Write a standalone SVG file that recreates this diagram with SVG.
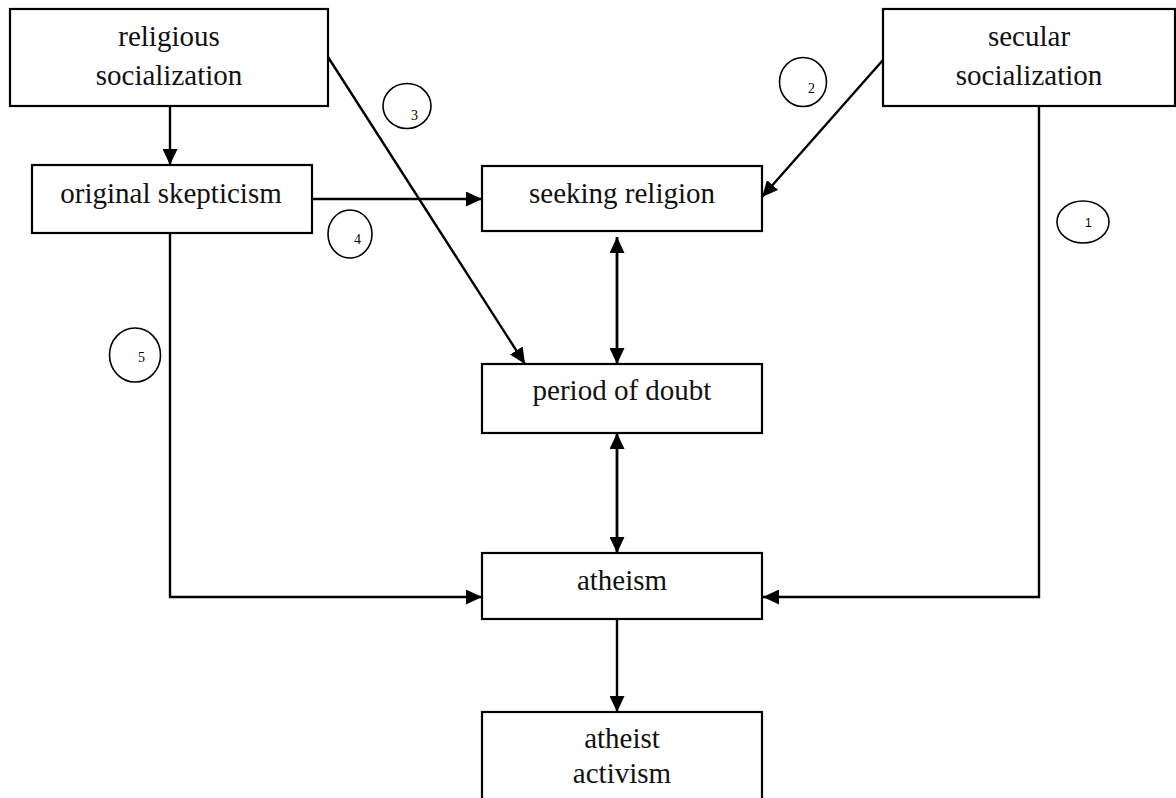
<svg xmlns="http://www.w3.org/2000/svg" width="1176" height="798" viewBox="0 0 1176 798">
<style>
.box{fill:#fff;stroke:#000;stroke-width:2.2}
.t{font-family:"Liberation Serif","Times New Roman",serif;font-size:29px;fill:#111;text-anchor:middle}
.c{fill:none;stroke:#000;stroke-width:1.6}
.n{font-family:"Liberation Serif","Times New Roman",serif;font-size:14px;fill:#000}
.ns{font-family:"Liberation Sans",Arial,sans-serif;font-size:12px;fill:#000}
.e{fill:none;stroke:#000;stroke-width:2.4}
.b{fill:none;stroke:#000;stroke-width:2.8}
</style>
<defs>
<marker id="ah" markerUnits="userSpaceOnUse" markerWidth="16" markerHeight="15" refX="16" refY="7.5" orient="auto-start-reverse">
<path d="M0,0 L16,7.5 L0,15 z" fill="#000"/>
</marker>
</defs>
<rect width="1176" height="798" fill="#fff"/>
<g id="connectors">
<line class="e" x1="170" y1="106" x2="170" y2="165" marker-end="url(#ah)"/>
<line class="e" x1="312" y1="199" x2="482" y2="199" marker-end="url(#ah)"/>
<line class="e" x1="328" y1="57" x2="525" y2="364" marker-end="url(#ah)"/>
<line class="e" x1="883" y1="60" x2="762" y2="197" marker-end="url(#ah)"/>
<line class="b" x1="617" y1="237" x2="617" y2="364" marker-start="url(#ah)" marker-end="url(#ah)"/>
<line class="b" x1="617" y1="433" x2="617" y2="553" marker-start="url(#ah)" marker-end="url(#ah)"/>
<polyline class="e" points="170,233 170,597 482,597" marker-end="url(#ah)"/>
<polyline class="e" points="1039,106 1039,597 763,597" marker-end="url(#ah)"/>
<line class="e" x1="617" y1="619" x2="617" y2="712" marker-end="url(#ah)"/>
</g>
<g id="n-religious">
<rect class="box" x="10" y="9" width="318" height="97"/>
<text class="t" x="169" y="46">religious</text>
<text class="t" x="169" y="85">socialization</text>
</g>
<g id="n-secular">
<rect class="box" x="883" y="9" width="292" height="97"/>
<text class="t" x="1029" y="46">secular</text>
<text class="t" x="1029" y="85">socialization</text>
</g>
<g id="n-original">
<rect class="box" x="32" y="165" width="280" height="68"/>
<text class="t" x="171" y="203">original skepticism</text>
</g>
<g id="n-seeking">
<rect class="box" x="482" y="166" width="280" height="65"/>
<text class="t" x="622" y="203">seeking religion</text>
</g>
<g id="n-doubt">
<rect class="box" x="482" y="364" width="280" height="69"/>
<text class="t" x="622" y="400">period of doubt</text>
</g>
<g id="n-atheism">
<rect class="box" x="482" y="553" width="280" height="66"/>
<text class="t" x="622" y="590">atheism</text>
</g>
<g id="n-activism">
<rect class="box" x="482" y="712" width="280" height="100"/>
<text class="t" x="622" y="748">atheist</text>
<text class="t" x="622" y="783">activism</text>
</g>
<g id="labels">
<ellipse class="c" cx="1083" cy="222" rx="26" ry="21"/>
<text class="ns" x="1085" y="227">1</text>
<ellipse class="c" cx="803" cy="82" rx="23.5" ry="24.5"/>
<text class="n" x="808" y="93">2</text>
<ellipse class="c" cx="407" cy="106" rx="24" ry="22.5"/>
<text class="n" x="411" y="120">3</text>
<ellipse class="c" cx="350" cy="234" rx="22" ry="24"/>
<text class="n" x="354" y="244">4</text>
<ellipse class="c" cx="135" cy="355" rx="25.5" ry="27"/>
<text class="n" x="138" y="362">5</text>
</g>
</svg>
